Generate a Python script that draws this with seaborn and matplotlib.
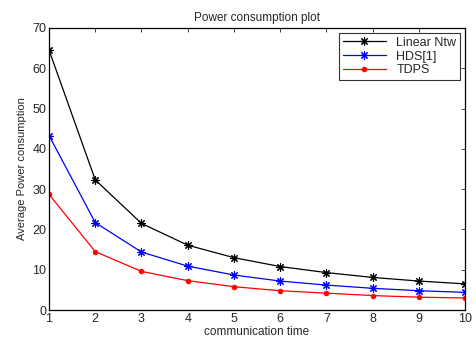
import matplotlib
matplotlib.use("Agg")
import matplotlib.pyplot as plt
import seaborn as sns
import pandas as pd

x = [1, 2, 3, 4, 5, 6, 7, 8, 9, 10]
linear_ntw = [64.5, 32.3, 21.5, 16.1, 13.0, 10.8, 9.3, 8.1, 7.2, 6.5]
hds = [43.3, 21.7, 14.4, 10.9, 8.7, 7.2, 6.2, 5.4, 4.8, 4.4]
tdps = [28.7, 14.5, 9.6, 7.3, 5.8, 4.8, 4.2, 3.6, 3.2, 3.0]
series = ["Linear Ntw", "HDS[1]", "TDPS"]
colors = ["black", "blue", "red"]

df = pd.DataFrame({
    "x": x * 3,
    "y": linear_ntw + hds + tdps,
    "s": [series[0]] * 10 + [series[1]] * 10 + [series[2]] * 10,
})

sns.set_style("white")
plt.rcParams['font.family'] = ['Liberation Sans', 'DejaVu Sans']

fig = plt.figure(figsize=(4.76, 3.4), dpi=100)
ax = fig.add_axes([0.103, 0.088, 0.874, 0.830])
for i, (s, c) in enumerate(zip(series, colors)):
    sub = df[df.s == s]
    if i < 2:
        kw = dict(marker=(8, 2, 0), markersize=6, markeredgewidth=0.8)
    else:
        kw = dict(marker="o", markersize=3.5, markeredgewidth=0.5)
    sns.lineplot(data=sub, x="x", y="y", ax=ax, color=c, linewidth=0.9,
                 markeredgecolor=c, markerfacecolor=c, label=s, **kw)

ax.set_xlim(1, 10)
ax.set_ylim(0, 70)
ax.set_xticks(range(1, 11))
ax.set_yticks(range(0, 71, 10))
ax.tick_params(direction="in", length=3, labelsize=9, top=True, right=True,
               width=0.6, pad=2)
for sp in ax.spines.values():
    sp.set_visible(True)
    sp.set_color("black")
    sp.set_linewidth(0.9)
ax.set_xlabel("communication time", fontsize=8.5, labelpad=1)
ax.set_ylabel("Average Power consumption", fontsize=8, labelpad=4)
ax.set_title("Power consumption plot", fontsize=8.5, pad=5)
leg = ax.legend(loc="upper right", fontsize=9, frameon=True, fancybox=False,
                edgecolor="black", borderpad=0.3, handlelength=3.5,
                labelspacing=0.15, borderaxespad=0.4)
leg.get_frame().set_linewidth(0.8)
fig.savefig("out.png", dpi=100)
